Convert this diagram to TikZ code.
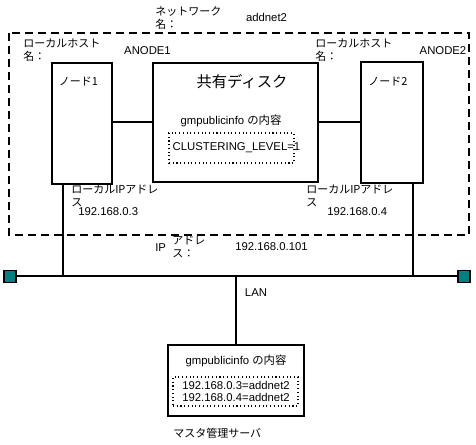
\documentclass[tikz,border=0pt]{standalone}
\usepackage{fontspec}
\setmainfont{Liberation Sans}
\newfontfamily\jp{Noto Sans CJK JP}
\usetikzlibrary{positioning}
\definecolor{lanTeal}{HTML}{008080}

\begin{document}
\begin{tikzpicture}[
    x=0.75pt, y=-0.75pt,
    hostbox/.style={rectangle, draw, line width=1.5pt, inner sep=0pt},
    dotbox/.style={rectangle, draw, dotted, line width=0.8pt, inner sep=0pt},
    lbl/.style={font=\fontsize{8.5}{9.75}\selectfont, inner sep=0pt, align=left},
    jlbl/.style={font=\fontsize{8.25}{9.75}\selectfont\jp, inner sep=0pt, align=left},
    wire/.style={line width=1.5pt},
    term/.style={rectangle, draw, fill=lanTeal, minimum size=9pt, inner sep=0pt, line width=0.8pt},
  ]
    \useasboundingbox (0,0) rectangle (476,445);

    % cluster frame
    \draw[line width=1.5pt, dash pattern=on 6pt off 3.75pt] (9,33) rectangle (469,235);

    % hosts and shared disk
    \node[hostbox, minimum width=45pt, minimum height=90.75pt] (node1) at (82,123.5) {};
    \node[hostbox, minimum width=123.75pt, minimum height=89.25pt] (disk) at (235.5,122.5) {};
    \node[hostbox, minimum width=46.5pt, minimum height=90.75pt] (node2) at (392,122.5) {};
    \node[dotbox, minimum width=93.75pt, minimum height=22.5pt] (diskdots) at (231.5,148) {};

    \node[jlbl] (node1name) at (78.5,82) {ノード1};
    \node[jlbl] (node2name) at (388,82) {ノード2};
    \node[font=\fontsize{11.5}{12}\selectfont\jp, inner sep=0pt] (disktitle) at (242,82) {共有ディスク};
    \node[lbl] (diskinfo) at (231,121) {gmpublicinfo {\jp の内容}};
    \node[lbl] (level) at (236.5,148) {CLUSTERING\_LEVEL=1};

    \draw[wire] (disk.west) -- (disk.west -| node1.east);
    \draw[wire] (disk.east) -- (disk.east -| node2.west);

    % labels
    \node[jlbl, anchor=west] (netname) at (155,18) {ネットワーク\\名：};
    \node[lbl] (netval) at (266.5,17) {addnet2};
    \node[jlbl, anchor=west] (host1) at (23,50) {ローカルホスト\\名：};
    \node[lbl] (host1val) at (147.5,51) {ANODE1};
    \node[jlbl, anchor=west] (host2) at (315,50) {ローカルホスト\\名：};
    \node[lbl] (host2val) at (443,51) {ANODE2};
    \node[jlbl, anchor=west] (ip1) at (71,196) {ローカルIPアドレ\\ス};
    \node[lbl, anchor=west] (ip1val) at (78,212) {192.168.0.3};
    \node[jlbl, anchor=west] (ip2) at (306,196) {ローカルIPアドレ\\ス};
    \node[lbl, anchor=west] (ip2val) at (327,212) {192.168.0.4};
    \node[lbl, anchor=west] (vip) at (155,248) {IP};
    \node[jlbl, anchor=west] (viplbl) at (172,247) {アドレ\\ス：};
    \node[lbl, anchor=west] (vipval) at (235,247) {192.168.0.101};

    % LAN
    \node[term] (termL) at (10,276.5) {};
    \node[term] (termR) at (464,276.5) {};
    \coordinate (drop1) at (63,276.5);
    \coordinate (drop2) at (413,276.5);
    \draw[wire] (termL) -- (termR);
    \draw[wire] (drop1 |- node1.south) -- (drop1);
    \draw[wire] (drop2 |- node2.south) -- (drop2);
    \node[lbl] (lan) at (256,293) {LAN};

    % master server
    \node[hostbox, minimum width=102pt, minimum height=53.25pt] (master) at (236,380.5) {};
    \draw[wire] (master.north) -- (master.north |- termL);
    \node[dotbox, minimum width=93.75pt, minimum height=21.75pt] (masterdots) at (235.5,391.5) {};
    \node[lbl] (minfo) at (236,361) {gmpublicinfo {\jp の内容}};
    \node[lbl] (m1) at (236,385) {192.168.0.3=addnet2};
    \node[lbl] (m2) at (236,397) {192.168.0.4=addnet2};
    \node[jlbl, anchor=west] (mcap) at (173,433) {マスタ管理サーバ};
  \end{tikzpicture}
\end{document}
